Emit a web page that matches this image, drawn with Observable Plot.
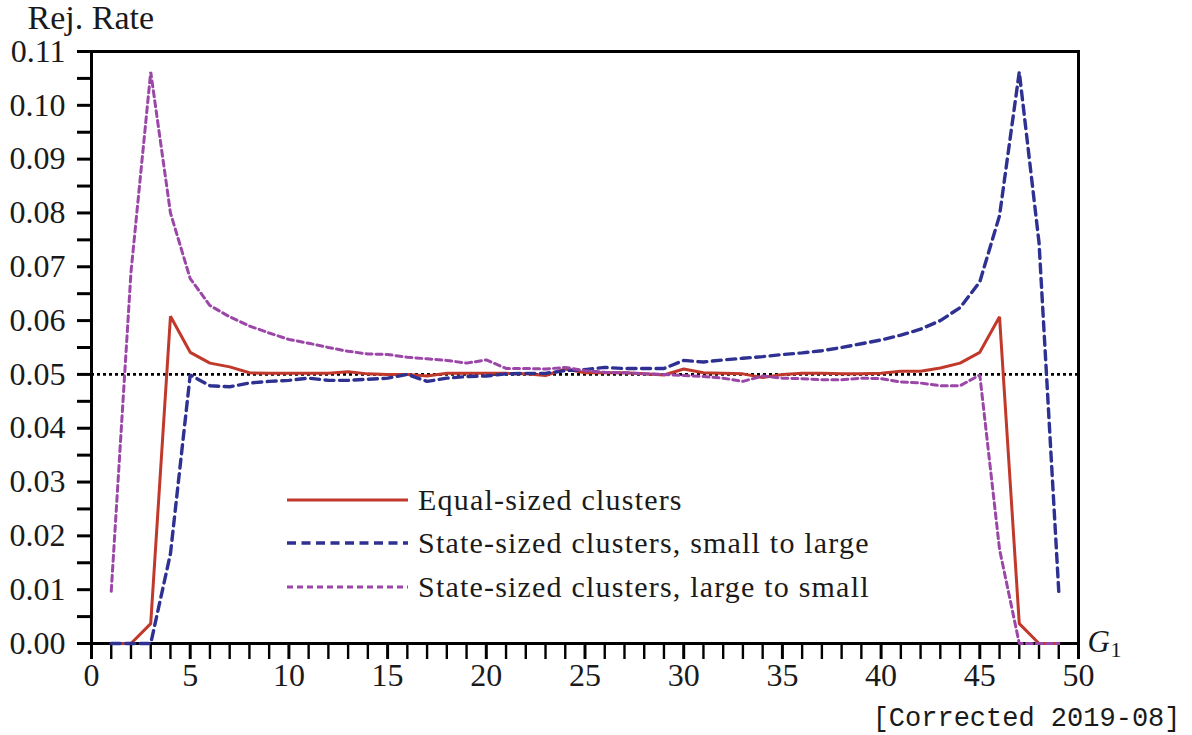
<!DOCTYPE html>
<html>
<head>
<meta charset="utf-8">
<script src="https://cdn.jsdelivr.net/npm/d3@7"></script>
<script src="https://cdn.jsdelivr.net/npm/@observablehq/plot@0.6"></script>
<style>
  html, body { margin: 0; padding: 0; background: #fff; }
  #wrap { position: relative; width: 1192px; height: 735px; }
  #chart { position: absolute; left: 0; top: 0; }
  #legend { position: absolute; left: 287px; top: 478px; font-family: "Liberation Serif", serif; font-size: 30px; letter-spacing: 1.2px; color: #1a1a1a; }
  #legend .row { display: flex; align-items: center; height: 43.5px; white-space: nowrap; }
  #legend svg { width: 121px; height: 8px; margin-right: 10px; flex: none; }
</style>
</head>
<body>
<div id="wrap">
  <div id="chart"></div>
  <div id="legend"></div>
</div>
<script>
// Number of clusters G1 in the first group
const G1 = d3.range(1, 50);

// Rejection rates, equal-sized clusters
const equalSized = [
  0, 0, 0.0037, 0.0608, 0.0541, 0.0521, 0.0514, 0.0503, 0.0502, 0.0502,
  0.0502, 0.0502, 0.0505, 0.0501, 0.0500, 0.0500, 0.0497, 0.0502, 0.0502, 0.0502,
  0.0502, 0.0501, 0.0498, 0.0510, 0.0503, 0.0503, 0.0503, 0.0501, 0.0499, 0.0510,
  0.0503, 0.0502, 0.0501, 0.0494, 0.0500, 0.0502, 0.0502, 0.0501, 0.0501, 0.0502,
  0.0506, 0.0506, 0.0512, 0.0521, 0.0541, 0.0607, 0.0037, 0, 0
];

// Rejection rates, state-sized clusters ordered small to large
const smallToLarge = [
  0, 0, 0, 0.0167, 0.0499, 0.0479, 0.0477, 0.0484, 0.0487, 0.0489,
  0.0493, 0.0489, 0.0489, 0.0491, 0.0493, 0.0500, 0.0487, 0.0493, 0.0496, 0.0497,
  0.0501, 0.0502, 0.0502, 0.0507, 0.0509, 0.0513, 0.0511, 0.0511, 0.0511, 0.0526,
  0.0523, 0.0527, 0.0530, 0.0533, 0.0537, 0.0540, 0.0544, 0.0550, 0.0557, 0.0564,
  0.0573, 0.0584, 0.0600, 0.0624, 0.0672, 0.0795, 0.1062, 0.0745, 0.0097
];

// Rejection rates, state-sized clusters ordered large to small
const largeToSmall = [
  0.0097, 0.0690, 0.1062, 0.0800, 0.0678, 0.0628, 0.0607, 0.0590, 0.0577, 0.0565,
  0.0558, 0.0550, 0.0543, 0.0538, 0.0537, 0.0532, 0.0529, 0.0526, 0.0521, 0.0527,
  0.0511, 0.0511, 0.0510, 0.0513, 0.0507, 0.0504, 0.0503, 0.0501, 0.0500, 0.0498,
  0.0496, 0.0493, 0.0487, 0.0497, 0.0493, 0.0492, 0.0490, 0.0490, 0.0493, 0.0492,
  0.0486, 0.0484, 0.0479, 0.0479, 0.0499, 0.0175, 0, 0, 0
];

const seriesNames = [
  "Equal-sized clusters",
  "State-sized clusters, small to large",
  "State-sized clusters, large to small"
];
const seriesValues = [equalSized, smallToLarge, largeToSmall];

const nominalLevel = 0.05;

// Axis ticks
const yMajorTicks = d3.range(0, 12).map(i => i / 100);
const yMinorTicks = d3.range(0, 11).map(i => i / 100 + 0.005);
const xMajorTicks = d3.range(0, 51, 5);
const xMinorTicks = d3.range(0, 51).filter(d => d % 5 !== 0);

const styles = [
  {stroke: "#c0392b", strokeWidth: 3, dash: null},
  {stroke: "#2e3192", strokeWidth: 3.4, dash: "9,5.5"},
  {stroke: "#9b47a8", strokeWidth: 3, dash: "6,4"}
];

const rows = seriesNames.flatMap((name, s) =>
  G1.map((g, i) => ({series: name, g, rate: seriesValues[s][i]}))
);

const serif = "'Liberation Serif', serif";
const ink = "#1a1a1a";

const chart = Plot.plot({
  width: 1192,
  height: 735,
  marginLeft: 91,
  marginRight: 114,
  marginTop: 51,
  marginBottom: 92,
  style: {fontFamily: serif, fontSize: "32px", color: ink, background: "white", overflow: "visible"},
  x: {domain: [0, 50]},
  y: {domain: [0, 0.11]},
  marks: [
    Plot.frame({stroke: "black", strokeWidth: 3}),
    Plot.axisY(yMajorTicks, {tickSize: 14, tickPadding: 12, tickFormat: d3.format(".2f"), stroke: "black", strokeWidth: 3, fontSize: 32, label: null}),
    Plot.axisY(yMinorTicks, {tickSize: 14, tickFormat: () => "", stroke: "black", strokeWidth: 3, label: null}),
    Plot.axisX(xMajorTicks, {tickSize: 16, tickPadding: 4, tickFormat: d3.format("d"), stroke: "black", strokeWidth: 3, fontSize: 32, label: null}),
    Plot.axisX(xMinorTicks, {tickSize: 16, tickFormat: () => "", stroke: "black", strokeWidth: 2.4, label: null}),
    Plot.ruleY([nominalLevel], {stroke: "black", strokeWidth: 2.6, strokeDasharray: "3,3"}),
    ...seriesNames.map((name, s) =>
      Plot.line(rows.filter(d => d.series === name), {
        x: "g", y: "rate",
        stroke: styles[s].stroke,
        strokeWidth: styles[s].strokeWidth,
        strokeDasharray: styles[s].dash,
        strokeLinejoin: "miter"
      })
    ),
    Plot.text(["Rej. Rate"], {frameAnchor: "top-left", lineAnchor: "middle", dx: -64, dy: -33, textAnchor: "start", fontSize: 34, fill: ink}),
    Plot.text(["G"], {frameAnchor: "bottom-right", lineAnchor: "middle", dx: 9, dy: -1, textAnchor: "start", fontStyle: "italic", fontSize: 31, fill: ink}),
    Plot.text(["1"], {frameAnchor: "bottom-right", lineAnchor: "middle", dx: 32, dy: 6, textAnchor: "start", fontSize: 22, fill: ink}),
    Plot.text(["[Corrected 2019-08]"], {frameAnchor: "bottom-right", lineAnchor: "middle", dx: 102, dy: 74, textAnchor: "end", fontFamily: "'Liberation Mono', monospace", fontSize: 27, fill: ink})
  ]
});
document.getElementById("chart").appendChild(chart);

// Legend: a swatch line and a label per series
const legend = d3.select("#legend");
seriesNames.forEach((name, s) => {
  const row = legend.append("div").attr("class", "row");
  const sw = row.append("svg").attr("viewBox", "0 0 121 8");
  sw.append("line")
    .attr("x1", 0).attr("x2", 121).attr("y1", 4).attr("y2", 4)
    .attr("stroke", styles[s].stroke)
    .attr("stroke-width", styles[s].strokeWidth)
    .attr("stroke-dasharray", styles[s].dash);
  row.append("span").text(name);
});
</script>
</body>
</html>
